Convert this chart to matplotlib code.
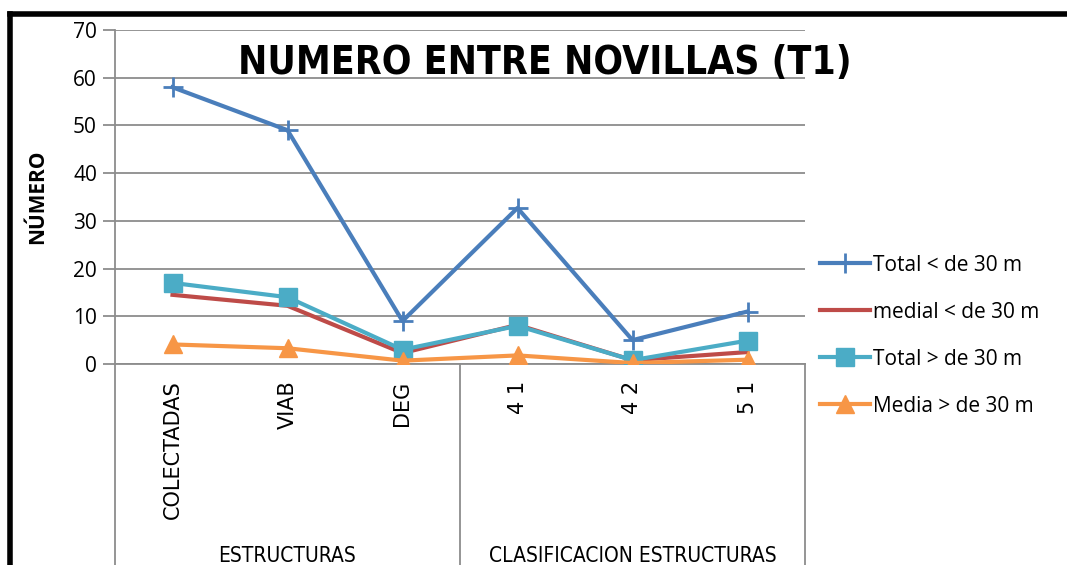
import matplotlib.pyplot as plt
from matplotlib.lines import Line2D

# data
categories = ["COLECTADAS", "VIAB", "DEG", "4 1", "4 2", "5 1"]
groups = ["ESTRUCTURAS", "CLASIFICACION ESTRUCTURAS"]
total_lt30 = [58, 49, 9, 32.7, 5, 11]
medial_lt30 = [14.5, 12.2, 2.3, 8.2, 0.8, 2.5]
total_gt30 = [17, 14, 3, 8, 0.8, 4.9]
media_gt30 = [4.1, 3.3, 0.7, 1.8, 0.2, 0.9]
series_names = ["Total < de 30 m", "medial < de 30 m", "Total > de 30 m", "Media > de 30 m"]

plt.rcParams["font.family"] = ["Open Sans", "DejaVu Sans"]

fig = plt.figure(figsize=(10.67, 5.65), dpi=100)
ax = fig.add_axes([115 / 1067, 1 - 364 / 565, 690 / 1067, 334 / 565])

x = list(range(len(categories)))
ax.plot(x, total_lt30, color="#4A7EBB", lw=3, marker="+", ms=15, mew=2, label=series_names[0], zorder=3)
ax.plot(x, medial_lt30, color="#BE4B48", lw=3, label=series_names[1], zorder=3)
ax.plot(x, total_gt30, color="#4BACC6", lw=3, marker="s", ms=13, label=series_names[2], zorder=4)
ax.plot(x, media_gt30, color="#F79646", lw=3, marker="^", ms=13, label=series_names[3], zorder=5)

ax.set_xlim(-0.5, len(categories) - 0.5)
ax.set_ylim(0, 70)
ax.set_yticks(range(0, 71, 10))
ax.yaxis.grid(True, color="#8c8c8c", lw=1.3)
ax.set_axisbelow(True)
for s in ["top", "right"]:
    ax.spines[s].set_visible(False)
for s in ["left", "bottom"]:
    ax.spines[s].set_color("#8c8c8c")
    ax.spines[s].set_linewidth(1.3)
ax.tick_params(axis="y", length=9, color="#8c8c8c", width=1.3, labelsize=15, pad=4)
ax.set_xticks(x)
ax.set_xticklabels(categories, rotation=90, fontsize=15, family=["DejaVu Sans"])
ax.tick_params(axis="x", length=0, pad=12)
ax.set_ylabel("NÚMERO", fontsize=15, fontweight="bold", labelpad=18)

# group separators below the axis
for xs in [-0.5, 2.5, 5.5]:
    ax.add_line(Line2D([xs, xs], [0, -0.8], transform=ax.get_xaxis_transform(),
                       color="#8c8c8c", lw=1.3, clip_on=False))
for gx, gname in zip([1, 4], groups):
    ax.text(gx, -0.575, gname, transform=ax.get_xaxis_transform(), ha="center", va="center",
            fontsize=15, fontstretch="condensed", family=["DejaVu Sans"])

fig.text(545 / 1067, 1 - 63 / 565, "NUMERO ENTRE NOVILLAS (T1)", ha="center", va="center",
         fontsize=28, fontweight="bold", fontstretch="condensed", family=["DejaVu Sans"])

ax.legend(loc="center left", bbox_to_anchor=(1.0, 0.085), frameon=False, fontsize=15,
          handlelength=2.4, handletextpad=0.15, labelspacing=1.25, borderaxespad=0.3)

# black frame on left and top
fig.add_artist(Line2D([10 / 1067, 10 / 1067], [0, 1 - 14 / 565], transform=fig.transFigure, color="black", lw=4))
fig.add_artist(Line2D([10 / 1067, 1], [1 - 14 / 565, 1 - 14 / 565], transform=fig.transFigure, color="black", lw=4))

fig.savefig("out.png", dpi=100)
